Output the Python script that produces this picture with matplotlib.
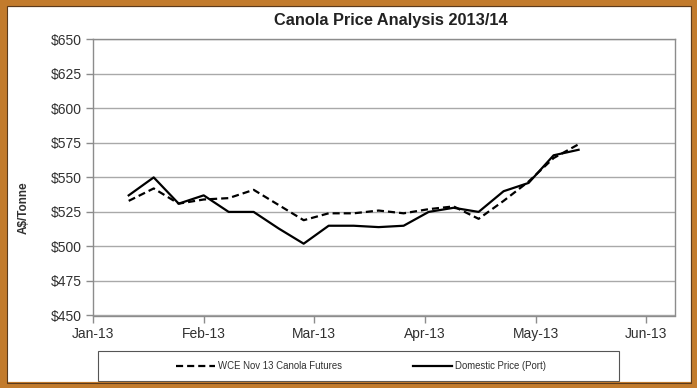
import pandas as pd
import matplotlib
matplotlib.use('Agg')
import matplotlib.pyplot as plt
import matplotlib.dates as mdates
from matplotlib.patches import Rectangle

# weekly prices, A$/tonne
dates = pd.to_datetime([
    '2013-01-11', '2013-01-18', '2013-01-25', '2013-02-01', '2013-02-08',
    '2013-02-15', '2013-02-22', '2013-03-01', '2013-03-08', '2013-03-15',
    '2013-03-22', '2013-03-29', '2013-04-05', '2013-04-12', '2013-04-19',
    '2013-04-26', '2013-05-03', '2013-05-10', '2013-05-17'])
futures = [533, 542, 531, 534, 535, 541, 530, 519, 524, 524,
           526, 524, 527, 529, 520, 533, 547, 564, 574]
domestic = [537, 550, 531, 537, 525, 525, 513, 502, 515, 515,
            514, 515, 525, 528, 525, 540, 546, 566, 570]

month_ticks = pd.date_range('2013-01-01', periods=6, freq='31D')
y_ticks = list(range(450, 651, 25))

plt.rcParams['font.family'] = ['Liberation Sans', 'DejaVu Sans']
txt_col = '#303030'

fig = plt.figure(figsize=(6.97, 3.88), dpi=100)
ax = fig.add_axes([93 / 697, 1 - 315.5 / 388, 582 / 697, 276.2 / 388])

ax.plot(dates, futures, color='black', lw=1.6, linestyle=(0, (3.2, 1.8)),
        label='WCE Nov 13 Canola Futures')
ax.plot(dates, domestic, color='black', lw=1.6, label='Domestic Price (Port)')

ax.set_xlim(pd.Timestamp('2013-01-01'), pd.Timestamp('2013-01-01') + pd.Timedelta(days=163))
ax.set_ylim(450, 650)
ax.set_xticks(month_ticks)
ax.xaxis.set_major_formatter(mdates.DateFormatter('%b-%y'))
ax.set_yticks(y_ticks)
ax.yaxis.set_major_formatter(lambda v, p: f'${v:.0f}')
ax.grid(axis='y', color='#a9a9a9', lw=1)
ax.set_axisbelow(True)
for s in ax.spines.values():
    s.set_color('#8c8c8c')
    s.set_linewidth(1)
ax.tick_params(axis='both', direction='out', length=5, width=1, color='#8c8c8c',
               labelsize=10, labelcolor=txt_col, pad=3)

fig.text(391 / 697, 1 - 20 / 388, 'Canola Price Analysis 2013/14', ha='center', va='center',
         fontsize=11.8, fontweight='bold', color='#222222')
fig.text(23.5 / 697, 1 - 208 / 388, 'A$/Tonne', ha='center', va='center', rotation=90,
         fontsize=8.5, fontweight='bold', color=txt_col)

# legend box
fig.patches.append(Rectangle((98 / 697, 1 - 381 / 388), 521 / 697, 30 / 388,
                             transform=fig.transFigure, fill=False, ec='#555555', lw=0.8))
fig.legend(loc='center', bbox_to_anchor=(361 / 697, 1 - 366 / 388), ncol=2, frameon=False,
           fontsize=6.9, handlelength=4, handletextpad=0.3, columnspacing=7.5,
           labelcolor=txt_col)

# orange picture frame
fig.patches.append(Rectangle((0, 0), 1, 1, transform=fig.transFigure, fill=False,
                             ec='#c27b2c', lw=9.5))
fig.patches.append(Rectangle((6.5 / 697, 5 / 388), 684.5 / 697, 377 / 388, transform=fig.transFigure,
                             fill=False, ec='#5a3a1c', lw=0.8))

fig.savefig('out.png', dpi=100)
